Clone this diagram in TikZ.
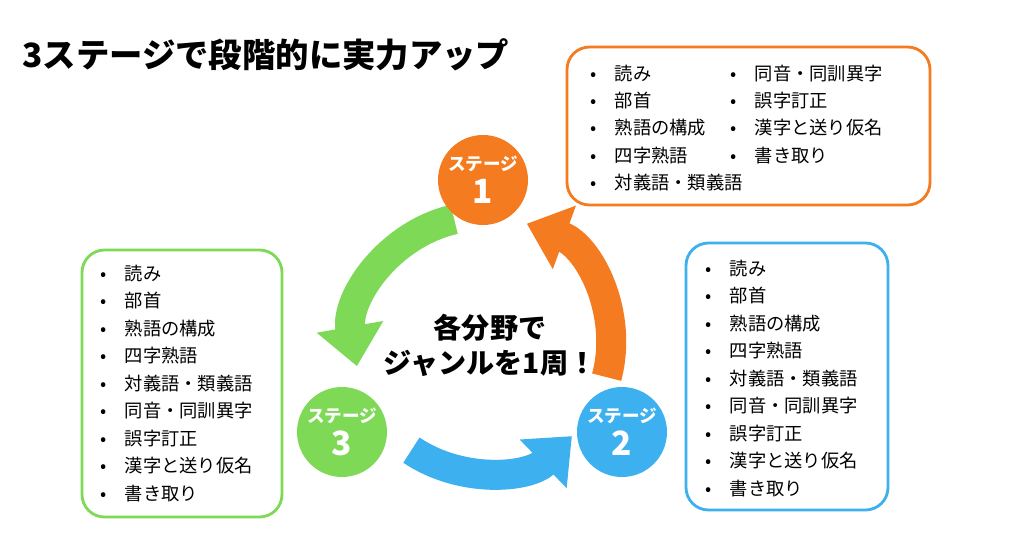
\documentclass[tikz,border=0pt]{standalone}
\usepackage{fontspec}
\setmainfont{Noto Sans CJK JP}
\usetikzlibrary{arrows.meta}
\definecolor{stOrange}{HTML}{F47B20}
\definecolor{stBlue}{HTML}{3DB0F0}
\definecolor{stGreen}{HTML}{7ED957}
\begin{document}
\begin{tikzpicture}[x = 0.02cm, y = -0.02cm]
    \tikzstyle{stage} = [circle, minimum size = 1.8cm, inner sep = 0pt, text = white, font = \bfseries, align = center];
    \tikzstyle{box} = [draw, line width = 1.6pt, rounded corners = 0.45cm];
    \tikzstyle{item} = [anchor = west, inner sep = 0pt, font = \fontsize{10.4}{12}\selectfont];
    \tikzstyle{band} = [line width = 0.6cm, -{Triangle[length = 0.8cm, width = 1.3cm]}];
    \useasboundingbox[fill = white] (0,0) rectangle (1024,555);
    % title:
    \node[anchor = west, inner sep = 0pt, font = \fontsize{19}{22}\bfseries] (title) at (22,55) {3ステージで段階的に実力アップ};
    % arrows:
    \draw[band, stGreen] (483,344) ++(-103:128) arc[start angle = -103, end angle = -190, radius = 128];
    \draw[band, stOrange] (483,344) ++(15:128) arc[start angle = 15, end angle = -70, radius = 128];
    \draw[band, stBlue] (483,344) ++(124:128) arc[start angle = 124, end angle = 46, radius = 128];
    % stages:
    \node[stage, fill = stOrange] (s1) at (483,180) {\fontsize{10}{11}\selectfont ステージ\\[3pt]\fontsize{19}{20}\selectfont 1};
    \node[stage, fill = stBlue] (s2) at (622,432) {\fontsize{10}{11}\selectfont ステージ\\[3pt]\fontsize{19}{20}\selectfont 2};
    \node[stage, fill = stGreen] (s3) at (342,432) {\fontsize{10}{11}\selectfont ステージ\\[3pt]\fontsize{19}{20}\selectfont 3};
    \node[align = center, font = \fontsize{16}{20}\bfseries\selectfont] (center) at (490,345) {各分野で\\ジャンルを1周！};
    % boxes:
    \draw[box, stOrange] (567,47) rectangle (930,205);
    \draw[box, stGreen] (82,250) rectangle (282,517);
    \draw[box, stBlue] (686,243) rectangle (888,510);
    % items:
    \foreach \t [count = \i] in {読み, 部首, 熟語の構成, 四字熟語, 対義語・類義語} {
        \node[item] (o\i) at (590,46+27.3*\i) {•\hspace{1em}\t};
    }
    \foreach \t [count = \i] in {同音・同訓異字, 誤字訂正, 漢字と送り仮名, 書き取り} {
        \node[item] (p\i) at (730,46+27.3*\i) {•\hspace{1em}\t};
    }
    \foreach \t [count = \i] in {読み, 部首, 熟語の構成, 四字熟語, 対義語・類義語, 同音・同訓異字, 誤字訂正, 漢字と送り仮名, 書き取り} {
        \node[item] (g\i) at (100,246+27.5*\i) {•\hspace{1em}\t};
        \node[item] (b\i) at (705,241+27.5*\i) {•\hspace{1em}\t};
    }
\end{tikzpicture}
\end{document}
